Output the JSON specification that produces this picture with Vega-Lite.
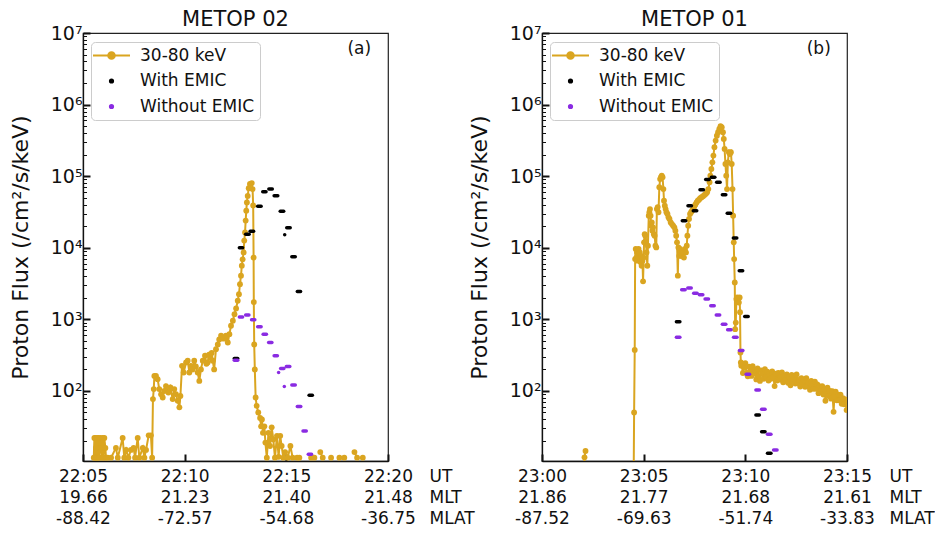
{
  "$schema": "https://vega.github.io/schema/vega-lite/v6.json",
  "background": "white",
  "bounds": "flush",
  "spacing": 154,
  "padding": {"left": 8, "top": 8, "right": 0, "bottom": 0},
  "config": {
    "font": "DejaVu Sans",
    "view": {"stroke": "#222222", "strokeWidth": 1.2},
    "axis": {"grid": false, "domainColor": "#111111", "domainWidth": 1.3, "tickColor": "#111111", "labelColor": "#111111", "titleColor": "#111111", "titleFontWeight": "normal", "labelOverlap": false, "labelBound": false},
    "title": {"fontSize": 21, "fontWeight": "normal", "color": "#111111", "offset": -6},
    "legend": {
      "orient": "none", "legendX": 8, "legendY": 9, "title": null,
      "fillColor": "rgba(255,255,255,0.85)", "strokeColor": "#cccccc", "cornerRadius": 4, "padding": 5,
      "labelFontSize": 17, "labelColor": "#111111", "labelOffset": 20, "symbolSize": 100, "symbolOffset": 7, "rowPadding": 7.5,
      "symbolStrokeWidth": 2
    }
  },
  "datasets": {
    "flux02": [
      {"t":5.53,"v":11.7},{"t":5.56,"v":22},{"t":5.59,"v":11.7},{"t":5.62,"v":22},{"t":5.64,"v":16},{"t":5.67,"v":11.7},{"t":5.70,"v":22},{"t":5.72,"v":11.7},{"t":5.76,"v":22},{"t":5.80,"v":11.7},{"t":5.85,"v":22},{"t":5.89,"v":16},{"t":5.93,"v":11.7},{"t":5.97,"v":22},{"t":6.01,"v":11.7},{"t":6.05,"v":22},{"t":6.10,"v":16},{"t":6.13,"v":11.7},{"t":6.21,"v":11.7},{"t":6.38,"v":11.7},{"t":6.62,"v":16},{"t":6.71,"v":11.7},{"t":6.95,"v":22},{"t":7.03,"v":11.7},{"t":7.12,"v":15},{"t":7.23,"v":11.7},{"t":7.36,"v":15},{"t":7.49,"v":16},{"t":7.56,"v":11.7},{"t":7.69,"v":22},{"t":7.77,"v":11.7},{"t":7.94,"v":16},{"t":8.02,"v":11.7},{"t":8.10,"v":15},{"t":8.23,"v":24},{"t":8.34,"v":24},{"t":8.40,"v":11.7},
      {"t":8.44,"v":77},{"t":8.48,"v":106},{"t":8.51,"v":162},{"t":8.59,"v":162},{"t":8.67,"v":146},{"t":8.75,"v":106},{"t":8.84,"v":90},{"t":8.92,"v":81},{"t":9.00,"v":100},{"t":9.08,"v":117},{"t":9.20,"v":95},{"t":9.30,"v":112},{"t":9.41,"v":77},{"t":9.49,"v":106},{"t":9.57,"v":90},{"t":9.66,"v":73},{"t":9.74,"v":59},{"t":9.79,"v":85},{"t":9.87,"v":224},{"t":9.95,"v":181},{"t":10.07,"v":250},{"t":10.15,"v":265},{"t":10.23,"v":181},{"t":10.31,"v":224},{"t":10.39,"v":200},{"t":10.47,"v":265},{"t":10.55,"v":220},{"t":10.64,"v":181},{"t":10.72,"v":138},{"t":10.80,"v":200},{"t":10.89,"v":265},{"t":11.00,"v":310},{"t":11.07,"v":240},{"t":11.13,"v":250},{"t":11.20,"v":320},{"t":11.26,"v":293},{"t":11.33,"v":340},{"t":11.38,"v":265},{"t":11.45,"v":200},{"t":11.54,"v":383},{"t":11.63,"v":446},{"t":11.70,"v":524},{"t":11.79,"v":590},{"t":11.86,"v":560},{"t":11.92,"v":537},{"t":12.03,"v":590},{"t":12.12,"v":475},{"t":12.20,"v":621},{"t":12.28,"v":813},{"t":12.37,"v":955},{"t":12.45,"v":1180},{"t":12.53,"v":1420},{"t":12.61,"v":1820},{"t":12.67,"v":2250},{"t":12.72,"v":3100},{"t":12.77,"v":4070},{"t":12.81,"v":5620},{"t":12.85,"v":6900},{"t":12.90,"v":8600},{"t":12.93,"v":12600},{"t":12.97,"v":16400},{"t":13.00,"v":24000},{"t":13.03,"v":33000},{"t":13.06,"v":43000},{"t":13.10,"v":53000},{"t":13.15,"v":68000},{"t":13.21,"v":78000},{"t":13.30,"v":80000},{"t":13.34,"v":66000},{"t":13.37,"v":39000},{"t":13.39,"v":7300},{"t":13.40,"v":1740},{"t":13.42,"v":446},{"t":13.45,"v":200},{"t":13.49,"v":81},{"t":13.54,"v":62},{"t":13.62,"v":50},{"t":13.71,"v":42},{"t":13.76,"v":32},{"t":13.80,"v":40},{"t":13.85,"v":26},{"t":13.92,"v":32},{"t":13.97,"v":19},{"t":14.04,"v":11.7},{"t":14.12,"v":26},{"t":14.20,"v":17},{"t":14.28,"v":31},{"t":14.36,"v":21},{"t":14.44,"v":11.7},{"t":14.54,"v":23.6},{"t":14.62,"v":12},{"t":14.70,"v":23.6},{"t":14.77,"v":17},{"t":14.85,"v":11.7},{"t":14.94,"v":14},{"t":15.07,"v":11.7},{"t":15.20,"v":17},{"t":15.31,"v":11.7},
      {"t":15.42,"v":null},{"t":15.53,"v":11.7},{"t":15.58,"v":null},{"t":15.64,"v":11.7},{"t":15.90,"v":null},{"t":16.22,"v":11.7},{"t":16.30,"v":null},{"t":16.38,"v":11.7},{"t":16.50,"v":null},{"t":16.67,"v":14},{"t":16.79,"v":11.7},{"t":16.95,"v":null},{"t":17.20,"v":11.7},{"t":17.40,"v":null},{"t":17.61,"v":11.7},{"t":17.70,"v":null},{"t":17.85,"v":11.7},{"t":18.10,"v":null},{"t":18.35,"v":14},{"t":18.48,"v":11.7},{"t":18.60,"v":null},{"t":18.76,"v":11.7}
    ],
    "model02": [
      {"s":"With EMIC","t1":12.44,"t2":12.61,"v":284},
      {"s":"With EMIC","t1":12.69,"t2":12.85,"v":10000},
      {"s":"With EMIC","t1":13.00,"t2":13.17,"v":15500},
      {"s":"With EMIC","t1":13.22,"t2":13.39,"v":17000},
      {"s":"With EMIC","t1":13.59,"t2":13.76,"v":38000},
      {"s":"With EMIC","t1":13.84,"t2":14.00,"v":60700},
      {"s":"With EMIC","t1":14.14,"t2":14.31,"v":66200},
      {"s":"With EMIC","t1":14.40,"t2":14.58,"v":53300},
      {"s":"With EMIC","t1":14.70,"t2":14.87,"v":32300},
      {"s":"With EMIC","t1":14.92,"t2":14.92,"v":15200},
      {"s":"With EMIC","t1":15.02,"t2":15.19,"v":19000},
      {"s":"With EMIC","t1":15.27,"t2":15.44,"v":7480},
      {"s":"With EMIC","t1":15.54,"t2":15.70,"v":2450},
      {"s":"With EMIC","t1":16.12,"t2":16.28,"v":87},
      {"s":"Without EMIC","t1":12.44,"t2":12.61,"v":268},
      {"s":"Without EMIC","t1":12.69,"t2":12.85,"v":1080},
      {"s":"Without EMIC","t1":13.00,"t2":13.16,"v":1150},
      {"s":"Without EMIC","t1":13.29,"t2":13.45,"v":985},
      {"s":"Without EMIC","t1":13.59,"t2":13.76,"v":785},
      {"s":"Without EMIC","t1":13.86,"t2":14.02,"v":621},
      {"s":"Without EMIC","t1":14.13,"t2":14.29,"v":475},
      {"s":"Without EMIC","t1":14.40,"t2":14.56,"v":309},
      {"s":"Without EMIC","t1":14.62,"t2":14.62,"v":181},
      {"s":"Without EMIC","t1":14.72,"t2":14.88,"v":206},
      {"s":"Without EMIC","t1":14.90,"t2":14.90,"v":115},
      {"s":"Without EMIC","t1":15.00,"t2":15.17,"v":219},
      {"s":"Without EMIC","t1":15.27,"t2":15.44,"v":121},
      {"s":"Without EMIC","t1":15.54,"t2":15.71,"v":60.5},
      {"s":"Without EMIC","t1":15.82,"t2":15.98,"v":27.5},
      {"s":"Without EMIC","t1":16.08,"t2":16.24,"v":13}
    ],
    "flux01": [
      {"t":2.05,"v":3},{"t":2.09,"v":11.8},{"t":2.14,"v":14.5},{"t":2.18,"v":null},
      {"t":4.50,"v":3},{"t":4.53,"v":50},{"t":4.56,"v":374},{"t":4.58,"v":6950},{"t":4.61,"v":9600},{"t":4.64,"v":7300},{"t":4.67,"v":8600},{"t":4.69,"v":6600},{"t":4.72,"v":7700},{"t":4.75,"v":9600},{"t":4.78,"v":7300},{"t":4.81,"v":8600},{"t":4.84,"v":6300},{"t":4.87,"v":7700},{"t":4.90,"v":5600},{"t":4.94,"v":6600},{"t":4.97,"v":3400},{"t":5.00,"v":7300},{"t":5.02,"v":11900},{"t":5.05,"v":15500},{"t":5.08,"v":14700},{"t":5.11,"v":12500},{"t":5.14,"v":8600},{"t":5.18,"v":5600},{"t":5.21,"v":10700},{"t":5.25,"v":28000},{"t":5.28,"v":31300},{"t":5.31,"v":34700},{"t":5.34,"v":28000},{"t":5.37,"v":20300},{"t":5.40,"v":22600},{"t":5.43,"v":17300},{"t":5.46,"v":19300},{"t":5.50,"v":15500},{"t":5.54,"v":14700},{"t":5.58,"v":10700},{"t":5.62,"v":10100},{"t":5.65,"v":34700},{"t":5.69,"v":37000},{"t":5.73,"v":31300},{"t":5.77,"v":70000},{"t":5.81,"v":91000},{"t":5.85,"v":96500},{"t":5.89,"v":101600},{"t":5.93,"v":96500},{"t":5.97,"v":66000},{"t":6.00,"v":45400},{"t":6.04,"v":38600},{"t":6.08,"v":34700},{"t":6.12,"v":31300},{"t":6.17,"v":29600},{"t":6.22,"v":26600},{"t":6.27,"v":25200},{"t":6.33,"v":22600},{"t":6.39,"v":21400},{"t":6.45,"v":20300},{"t":6.51,"v":19300},{"t":6.56,"v":17300},{"t":6.60,"v":14700},{"t":6.64,"v":11900},{"t":6.68,"v":4070},{"t":6.71,"v":10100},{"t":6.75,"v":7700},{"t":6.79,"v":9600},{"t":6.83,"v":8600},{"t":6.88,"v":7700},{"t":6.93,"v":8600},{"t":6.98,"v":7300},{"t":7.03,"v":9600},{"t":7.08,"v":8600},{"t":7.12,"v":10700},{"t":7.15,"v":14700},{"t":7.19,"v":20300},{"t":7.23,"v":25200},{"t":7.28,"v":29600},{"t":7.33,"v":31300},{"t":7.38,"v":33000},{"t":7.43,"v":34700},{"t":7.48,"v":37000},{"t":7.54,"v":40000},{"t":7.60,"v":43000},{"t":7.66,"v":45400},{"t":7.72,"v":47000},{"t":7.78,"v":49100},{"t":7.85,"v":50700},{"t":7.92,"v":52400},{"t":7.99,"v":54600},{"t":8.06,"v":57000},{"t":8.12,"v":59600},{"t":8.18,"v":66000},{"t":8.24,"v":82200},{"t":8.28,"v":101600},{"t":8.33,"v":126000},{"t":8.38,"v":156000},{"t":8.43,"v":194000},{"t":8.48,"v":254000},{"t":8.54,"v":314000},{"t":8.60,"v":368000},{"t":8.66,"v":411000},{"t":8.72,"v":457000},{"t":8.78,"v":499000},{"t":8.84,"v":483000},{"t":8.90,"v":411000},{"t":8.94,"v":331000},{"t":8.98,"v":240000},{"t":9.02,"v":148000},{"t":9.06,"v":101600},{"t":9.10,"v":66000},{"t":9.14,"v":156000},{"t":9.19,"v":216000},{"t":9.24,"v":204000},{"t":9.29,"v":216000},{"t":9.33,"v":148000},{"t":9.37,"v":66000},{"t":9.40,"v":28000},{"t":9.43,"v":11900},{"t":9.45,"v":6950},{"t":9.48,"v":3280},{"t":9.50,"v":730},{"t":9.53,"v":900},{"t":9.56,"v":1920},{"t":9.60,"v":2020},{"t":9.64,"v":1900},{"t":9.68,"v":1720},{"t":9.72,"v":2020},{"t":9.74,"v":1260},{"t":9.76,"v":344},{"t":9.78,"v":250},{"t":9.80,"v":225},
      {"t":9.82,"v":240},{"t":9.88,"v":178},{"t":9.94,"v":214},{"t":10.00,"v":245},{"t":10.06,"v":178},{"t":10.12,"v":160},{"t":10.18,"v":219},{"t":10.24,"v":188},{"t":10.30,"v":162},{"t":10.36,"v":221},{"t":10.42,"v":174},{"t":10.48,"v":197},{"t":10.54,"v":145},{"t":10.60,"v":207},{"t":10.66,"v":162},{"t":10.72,"v":138},{"t":10.78,"v":193},{"t":10.84,"v":174},{"t":10.90,"v":148},{"t":10.96,"v":202},{"t":11.02,"v":158},{"t":11.08,"v":186},{"t":11.14,"v":140},{"t":11.20,"v":174},{"t":11.26,"v":148},{"t":11.32,"v":188},{"t":11.38,"v":155},{"t":11.44,"v":117},{"t":11.50,"v":174},{"t":11.56,"v":140},{"t":11.62,"v":178},{"t":11.68,"v":145},{"t":11.74,"v":160},{"t":11.80,"v":182},{"t":11.86,"v":132},{"t":11.92,"v":160},{"t":11.98,"v":141},{"t":12.04,"v":170},{"t":12.10,"v":130},{"t":12.16,"v":158},{"t":12.22,"v":120},{"t":12.28,"v":168},{"t":12.34,"v":138},{"t":12.40,"v":158},{"t":12.46,"v":127},{"t":12.52,"v":170},{"t":12.58,"v":129},{"t":12.64,"v":143},{"t":12.70,"v":115},{"t":12.76,"v":151},{"t":12.82,"v":127},{"t":12.88,"v":141},{"t":12.94,"v":114},{"t":13.00,"v":151},{"t":13.06,"v":116},{"t":13.12,"v":132},{"t":13.18,"v":104},{"t":13.24,"v":138},{"t":13.30,"v":122},{"t":13.36,"v":107},{"t":13.42,"v":135},{"t":13.48,"v":107},{"t":13.54,"v":123},{"t":13.60,"v":93},{"t":13.66,"v":116},{"t":13.72,"v":102},{"t":13.78,"v":117},{"t":13.84,"v":89},{"t":13.90,"v":105},{"t":13.94,"v":73},{"t":13.98,"v":91},{"t":14.04,"v":111},{"t":14.10,"v":85},{"t":14.16,"v":100},{"t":14.22,"v":78},{"t":14.28,"v":99},{"t":14.34,"v":51},{"t":14.38,"v":84},{"t":14.44,"v":98},{"t":14.50,"v":74},{"t":14.56,"v":89},{"t":14.62,"v":74},{"t":14.68,"v":89},{"t":14.74,"v":66},{"t":14.80,"v":79},{"t":14.86,"v":65},{"t":14.92,"v":76},{"t":14.98,"v":54},{"t":15.00,"v":66}
    ],
    "model01": [
      {"s":"With EMIC","t1":6.61,"t2":6.78,"v":922},
      {"s":"With EMIC","t1":6.90,"t2":7.07,"v":23900},
      {"s":"With EMIC","t1":7.18,"t2":7.35,"v":38600},
      {"s":"With EMIC","t1":7.44,"t2":7.61,"v":33000},
      {"s":"With EMIC","t1":7.77,"t2":7.94,"v":64500},
      {"s":"With EMIC","t1":8.05,"t2":8.22,"v":90000},
      {"s":"With EMIC","t1":8.33,"t2":8.50,"v":96500},
      {"s":"With EMIC","t1":8.59,"t2":8.76,"v":82000},
      {"s":"With EMIC","t1":8.87,"t2":9.04,"v":55000},
      {"s":"With EMIC","t1":9.11,"t2":9.28,"v":30300},
      {"s":"With EMIC","t1":9.41,"t2":9.58,"v":13700},
      {"s":"With EMIC","t1":9.70,"t2":9.87,"v":4790},
      {"s":"With EMIC","t1":9.97,"t2":10.14,"v":1100},
      {"s":"With EMIC","t1":10.52,"t2":10.69,"v":46},
      {"s":"With EMIC","t1":10.80,"t2":10.97,"v":27},
      {"s":"With EMIC","t1":11.09,"t2":11.26,"v":13.5},
      {"s":"Without EMIC","t1":6.61,"t2":6.78,"v":564},
      {"s":"Without EMIC","t1":6.87,"t2":7.04,"v":2590},
      {"s":"Without EMIC","t1":7.17,"t2":7.34,"v":2730},
      {"s":"Without EMIC","t1":7.46,"t2":7.63,"v":2320},
      {"s":"Without EMIC","t1":7.74,"t2":7.91,"v":2210},
      {"s":"Without EMIC","t1":8.02,"t2":8.19,"v":1920},
      {"s":"Without EMIC","t1":8.30,"t2":8.47,"v":1550},
      {"s":"Without EMIC","t1":8.57,"t2":8.74,"v":1150},
      {"s":"Without EMIC","t1":8.87,"t2":9.04,"v":857},
      {"s":"Without EMIC","t1":9.13,"t2":9.30,"v":713},
      {"s":"Without EMIC","t1":9.42,"t2":9.59,"v":564},
      {"s":"Without EMIC","t1":9.71,"t2":9.88,"v":367},
      {"s":"Without EMIC","t1":10.04,"t2":10.21,"v":171},
      {"s":"Without EMIC","t1":10.52,"t2":10.69,"v":103},
      {"s":"Without EMIC","t1":10.80,"t2":10.97,"v":55.5},
      {"s":"Without EMIC","t1":11.09,"t2":11.26,"v":24.8},
      {"s":"Without EMIC","t1":11.39,"t2":11.56,"v":15}
    ]
  },
  "hconcat": [
    {
      "title": "METOP 02",
      "width": 305,
      "height": 428,
      "layer": [
        {
          "data": {"name": "flux02"},
          "mark": {"type": "line", "strokeWidth": 2, "clip": true, "invalid": "break-paths-show-domains"},
          "encoding": {
            "x": {"field": "t", "type": "quantitative", "scale": {"domain": [5, 20], "nice": false, "zero": false},
              "axis": {"values": [5, 10, 15, 20], "tickSize": -7, "tickWidth": 2, "labelPadding": 14, "labelFontSize": 17, "labelLineHeight": 21, "labelFlush": false, "labelBaseline": "top",
                "labelExpr": "datum.value == 5 ? ['22:05','19.66','-88.42'] : datum.value == 10 ? ['22:10','21.23','-72.57'] : datum.value == 15 ? ['22:15','21.40','-54.68'] : ['22:20','21.48','-36.75']",
                "title": ["UT", "MLT", "MLAT"], "titleFontSize": 17, "titleLineHeight": 21, "titleAlign": "left", "titleAnchor": "start", "titleBaseline": "top", "titleX": 346, "titleY": 7}},
            "y": {"field": "v", "type": "quantitative", "scale": {"type": "log", "domain": [10.5, 10000000], "nice": false},
              "axis": {"values": [20,30,40,50,60,70,80,90,100,200,300,400,500,600,700,800,900,1000,2000,3000,4000,5000,6000,7000,8000,9000,10000,20000,30000,40000,50000,60000,70000,80000,90000,100000,200000,300000,400000,500000,600000,700000,800000,900000,1000000,2000000,3000000,4000000,5000000,6000000,7000000,8000000,9000000,10000000],
                "labelExpr": "abs(log(datum.value)/LN10 - round(log(datum.value)/LN10)) < 0.001 ? '10' + ['⁰','¹','²','³','⁴','⁵','⁶','⁷'][round(log(datum.value)/LN10)] : ''",
                "tickSize": {"condition": {"test": "abs(log(datum.value)/LN10 - round(log(datum.value)/LN10)) < 0.001", "value": -7}, "value": -3.5},
                "tickWidth": {"condition": {"test": "abs(log(datum.value)/LN10 - round(log(datum.value)/LN10)) < 0.001", "value": 2}, "value": 1},
                "labelPadding": 8, "labelFontSize": 19, "title": "Proton Flux (/cm²/s/keV)", "titleFontSize": 22, "titlePadding": 18}},
            "color": {"datum": "30-80 keV", "type": "nominal", "scale": {"domain": ["30-80 keV", "With EMIC", "Without EMIC"], "range": ["#DAA520", "#000000", "#8A2BE2"]},
              "legend": {"encode": {"symbols": {"update": {
                "shape": {"signal": "datum.value === '30-80 keV' ? 'M-3.7,0H3.7M0.66,0A0.66,0.66,0,1,1,-0.66,0A0.66,0.66,0,1,1,0.66,0Z' : 'M0.32,0A0.32,0.32,0,1,1,-0.32,0A0.32,0.32,0,1,1,0.32,0Z'"},
                "fill": {"signal": "datum.value === '30-80 keV' ? '#DAA520' : datum.value === 'With EMIC' ? '#000000' : '#8A2BE2'"},
                "stroke": {"signal": "datum.value === '30-80 keV' ? '#DAA520' : 'transparent'"},
                "strokeWidth": {"value": 2}, "opacity": {"value": 1}, "fillOpacity": {"value": 1}, "strokeOpacity": {"value": 1}}}}}}
          }
        },
        {
          "data": {"name": "flux02"},
          "mark": {"type": "point", "filled": true, "shape": "circle", "size": 34, "opacity": 1, "clip": true},
          "encoding": {
            "x": {"field": "t", "type": "quantitative"},
            "y": {"field": "v", "type": "quantitative"},
            "color": {"datum": "30-80 keV", "type": "nominal"}
          }
        },
        {
          "data": {"name": "model02"},
          "mark": {"type": "rule", "strokeWidth": 3.5, "strokeCap": "round", "clip": true},
          "encoding": {
            "x": {"field": "t1", "type": "quantitative"},
            "x2": {"field": "t2"},
            "y": {"field": "v", "type": "quantitative"},
            "color": {"field": "s", "type": "nominal"}
          }
        },
        {
          "data": {"values": [{"tag": "(a)"}]},
          "mark": {"type": "text", "fontSize": 17, "color": "#111111", "align": "center", "baseline": "middle"},
          "encoding": {
            "x": {"datum": 18.59, "type": "quantitative"},
            "y": {"datum": 6000000, "type": "quantitative"},
            "text": {"field": "tag"}
          }
        }
      ]
    },
    {
      "title": "METOP 01",
      "width": 305,
      "height": 428,
      "layer": [
        {
          "data": {"name": "flux01"},
          "mark": {"type": "line", "strokeWidth": 2, "clip": true, "invalid": "break-paths-show-domains"},
          "encoding": {
            "x": {"field": "t", "type": "quantitative", "scale": {"domain": [0, 15], "nice": false, "zero": false},
              "axis": {"values": [0, 5, 10, 15], "tickSize": -7, "tickWidth": 2, "labelPadding": 14, "labelFontSize": 17, "labelLineHeight": 21, "labelFlush": false, "labelBaseline": "top",
                "labelExpr": "datum.value == 0 ? ['23:00','21.86','-87.52'] : datum.value == 5 ? ['23:05','21.77','-69.63'] : datum.value == 10 ? ['23:10','21.68','-51.74'] : ['23:15','21.61','-33.83']",
                "title": ["UT", "MLT", "MLAT"], "titleFontSize": 17, "titleLineHeight": 21, "titleAlign": "left", "titleAnchor": "start", "titleBaseline": "top", "titleX": 347, "titleY": 7}},
            "y": {"field": "v", "type": "quantitative", "scale": {"type": "log", "domain": [10.5, 10000000], "nice": false},
              "axis": {"values": [20,30,40,50,60,70,80,90,100,200,300,400,500,600,700,800,900,1000,2000,3000,4000,5000,6000,7000,8000,9000,10000,20000,30000,40000,50000,60000,70000,80000,90000,100000,200000,300000,400000,500000,600000,700000,800000,900000,1000000,2000000,3000000,4000000,5000000,6000000,7000000,8000000,9000000,10000000],
                "labelExpr": "abs(log(datum.value)/LN10 - round(log(datum.value)/LN10)) < 0.001 ? '10' + ['⁰','¹','²','³','⁴','⁵','⁶','⁷'][round(log(datum.value)/LN10)] : ''",
                "tickSize": {"condition": {"test": "abs(log(datum.value)/LN10 - round(log(datum.value)/LN10)) < 0.001", "value": -7}, "value": -3.5},
                "tickWidth": {"condition": {"test": "abs(log(datum.value)/LN10 - round(log(datum.value)/LN10)) < 0.001", "value": 2}, "value": 1},
                "labelPadding": 8, "labelFontSize": 19, "title": "Proton Flux (/cm²/s/keV)", "titleFontSize": 22, "titlePadding": 18}},
            "color": {"datum": "30-80 keV", "type": "nominal", "scale": {"domain": ["30-80 keV", "With EMIC", "Without EMIC"], "range": ["#DAA520", "#000000", "#8A2BE2"]},
              "legend": {"encode": {"symbols": {"update": {
                "shape": {"signal": "datum.value === '30-80 keV' ? 'M-3.7,0H3.7M0.66,0A0.66,0.66,0,1,1,-0.66,0A0.66,0.66,0,1,1,0.66,0Z' : 'M0.32,0A0.32,0.32,0,1,1,-0.32,0A0.32,0.32,0,1,1,0.32,0Z'"},
                "fill": {"signal": "datum.value === '30-80 keV' ? '#DAA520' : datum.value === 'With EMIC' ? '#000000' : '#8A2BE2'"},
                "stroke": {"signal": "datum.value === '30-80 keV' ? '#DAA520' : 'transparent'"},
                "strokeWidth": {"value": 2}, "opacity": {"value": 1}, "fillOpacity": {"value": 1}, "strokeOpacity": {"value": 1}}}}}}
          }
        },
        {
          "data": {"name": "flux01"},
          "mark": {"type": "point", "filled": true, "shape": "circle", "size": 34, "opacity": 1, "clip": true},
          "encoding": {
            "x": {"field": "t", "type": "quantitative"},
            "y": {"field": "v", "type": "quantitative"},
            "color": {"datum": "30-80 keV", "type": "nominal"}
          }
        },
        {
          "data": {"name": "model01"},
          "mark": {"type": "rule", "strokeWidth": 3.5, "strokeCap": "round", "clip": true},
          "encoding": {
            "x": {"field": "t1", "type": "quantitative"},
            "x2": {"field": "t2"},
            "y": {"field": "v", "type": "quantitative"},
            "color": {"field": "s", "type": "nominal"}
          }
        },
        {
          "data": {"values": [{"tag": "(b)"}]},
          "mark": {"type": "text", "fontSize": 17, "color": "#111111", "align": "center", "baseline": "middle"},
          "encoding": {
            "x": {"datum": 13.61, "type": "quantitative"},
            "y": {"datum": 6000000, "type": "quantitative"},
            "text": {"field": "tag"}
          }
        }
      ]
    }
  ],
  "resolve": {"scale": {"color": "independent"}, "legend": {"color": "independent"}}
}
